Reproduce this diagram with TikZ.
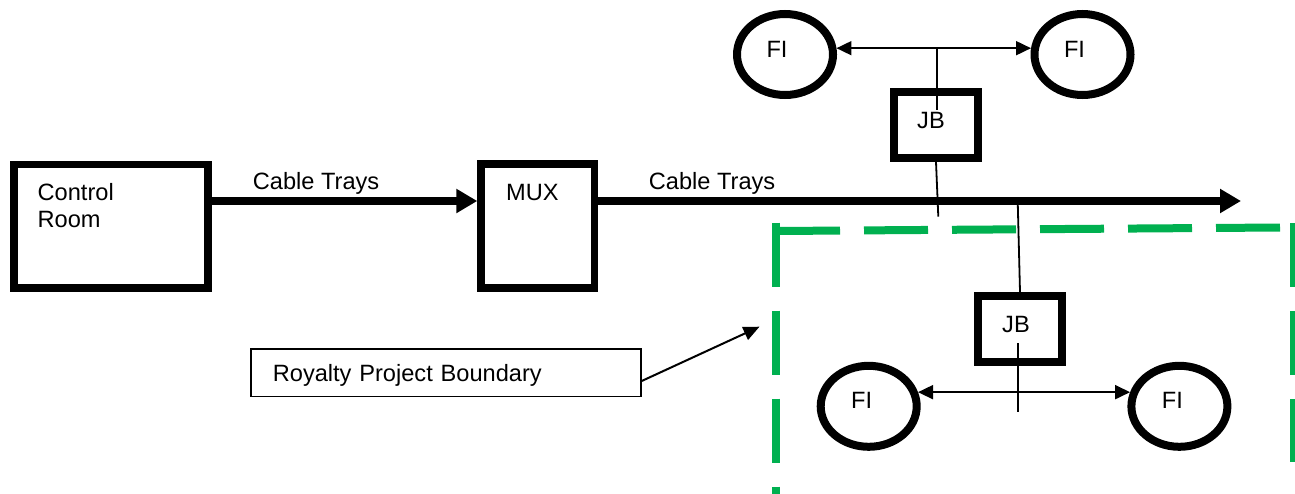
\documentclass[tikz,border=0pt]{standalone}
\usepackage{fontspec}
\setmainfont{Liberation Sans}
\usetikzlibrary{arrows.meta,shapes.geometric}
\definecolor{bgreen}{HTML}{00B050}
% shift a label up by #2/2 and left by #3/2 inside its node
\newcommand\offtxt[3]{\raisebox{0pt}[\height][\dimexpr\depth+#2\relax]{#1}\hspace*{#3}}
\begin{document}
\begin{tikzpicture}[x=1pt,y=-1pt,
  every node/.style={font=\fontsize{23.6}{27}\selectfont},
  thickbox/.style={draw, rectangle, line width=7.5pt, inner sep=0pt},
  jbbox/.style={draw, rectangle, line width=8pt, minimum width=84pt, minimum height=66pt, inner sep=0pt},
  fi/.style={draw, ellipse, line width=8pt, minimum width=96pt, minimum height=81pt, inner sep=0pt},
  txt/.style={inner sep=0pt},
  tray/.style={line width=7.8pt, -{Triangle[length=21pt,width=23pt]}},
  wire/.style={line width=1.8pt},
  twoway/.style={line width=1.8pt, {Triangle[length=15pt,width=14pt]}-{Triangle[length=15pt,width=14pt]}},
  gdash/.style={draw=bgreen, line width=8pt, dash pattern=on 64pt off 24pt},
]
\useasboundingbox (0,0) rectangle (1295,493);

% project boundary (green dashed)
\draw[gdash] (776,222.7) -- (776,500);
\draw[gdash] (776,231) -- (1280,227.5);
\draw[gdash] (1294,222.7) -- (1294,462);

% control room and MUX
\node[thickbox, minimum width=194pt, minimum height=123.5pt] (cr) at (110.75,226.2) {};
\node[txt, anchor=base west, align=left] (crt) at (37.5,227) {Control\\Room};
\node[thickbox, minimum width=113.5pt, minimum height=124pt] (mux) at (537.8,225.9) {};
\node[txt, anchor=base west] (muxt) at (506,200) {MUX};

\node[txt, anchor=base west] (ct1) at (252.7,189) {Cable Trays};
\node[txt, anchor=base west] (ct2) at (648.7,189) {Cable Trays};

\coordinate (trayend) at (1241,201);
\draw[tray] (cr.east |- 0,201) -- (mux.west |- 0,201);
\draw[tray] (mux.east |- 0,201) -- (trayend);

% upper junction box
\node[fi] (fi1) at (785,54.5) {\offtxt{FI}{10pt}{16pt}};
\node[fi] (fi2) at (1082.5,54.5) {\offtxt{FI}{10pt}{16pt}};
\draw[twoway] (fi1.7) -- (fi2.173);
\node[jbbox] (jb1) at (936,125) {\offtxt{JB}{10pt}{10pt}};
\coordinate (j1top) at (936.7,48.2);
\coordinate (j1in) at (936.7,110);
\coordinate (j1end) at (938.3,216.7);
\draw[wire] (j1top) -- (j1in);
\draw[wire] (jb1.south) -- (j1end);

% lower junction box
\node[jbbox] (jb2) at (1020,329) {\offtxt{JB}{9pt}{8pt}};
\coordinate (j2top) at (1017.7,201);
\draw[wire] (j2top) -- (jb2.north);
\node[fi] (fi3) at (868.7,406.3) {\offtxt{FI}{12pt}{14pt}};
\node[fi] (fi4) at (1179.4,406.3) {\offtxt{FI}{12pt}{14pt}};
\draw[twoway] (fi3.16) -- (fi4.164);
\coordinate (j2a) at (1018,343);
\coordinate (j2b) at (1018,412);
\draw[wire] (j2a) -- (j2b);

% boundary label
\node[draw, line width=1.5pt, minimum width=390.2pt, minimum height=47.5pt,
      inner xsep=22pt, inner ysep=0pt, text width=346pt, align=left,
      text height=18pt, text depth=0pt] (rpb) at (445.85,372.5) {Royalty Project Boundary};
\coordinate (rtip) at (759.5,326.7);
\draw[line width=2pt, -{Triangle[length=16pt,width=14pt]}] (rpb.east |- 0,381) -- (rtip);
\end{tikzpicture}
\end{document}
